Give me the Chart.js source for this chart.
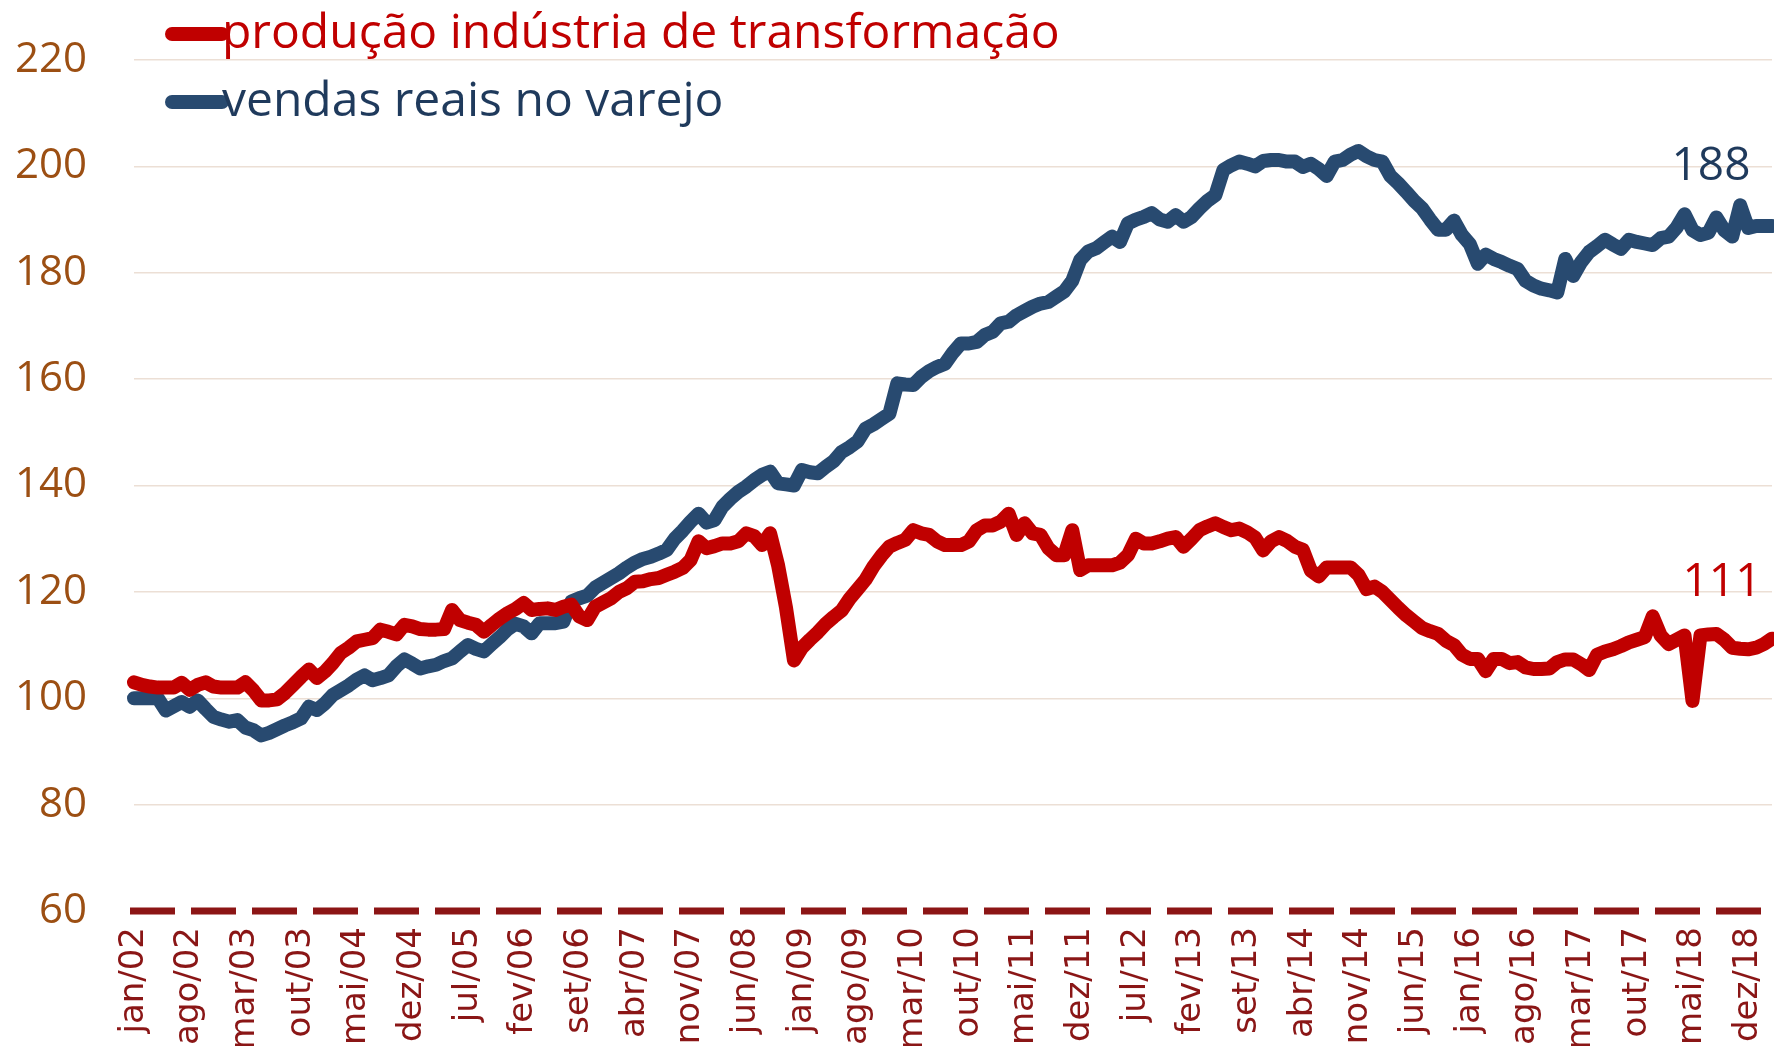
<!DOCTYPE html>
<html>
<head>
<meta charset="utf-8">
<script src="https://cdn.jsdelivr.net/npm/chart.js@4.4.1/dist/chart.umd.min.js"></script>
<style>
  html, body { margin: 0; padding: 0; background: #fff; overflow: hidden; }
  #wrap { width: 1774px; height: 1046px; }
</style>
</head>
<body>
<div id="wrap"><canvas id="chart" width="1774" height="1046"></canvas></div>
<script>
// months jan/02 .. mar/19
const monthNames = ['jan','fev','mar','abr','mai','jun','jul','ago','set','out','nov','dez'];
const firstYear = 2002;
const nPoints = 207;

// only these categories get a tick label
const shownTicks = ['jan/02','ago/02','mar/03','out/03','mai/04','dez/04','jul/05','fev/06','set/06',
  'abr/07','nov/07','jun/08','jan/09','ago/09','mar/10','out/10','mai/11','dez/11','jul/12','fev/13',
  'set/13','abr/14','nov/14','jun/15','jan/16','ago/16','mar/17','out/17','mai/18','dez/18'];

const yTicks = [60, 80, 100, 120, 140, 160, 180, 200, 220];

// produção indústria de transformação (one row per year)
const industria = [
  103, 102.5, 102.2, 102, 102, 102, 102.9, 101.6, 102.5, 103, 102.2, 102,
  102, 102, 103, 101.5, 99.6, 99.6, 99.8, 101, 102.5, 104, 105.4, 103.8,
  105, 106.6, 108.5, 109.5, 110.7, 111, 111.3, 112.9, 112.5, 112, 113.8, 113.5,
  113, 112.9, 112.9, 113, 116.6, 114.7, 114.2, 113.8, 112.5, 113.8, 115, 116,
  116.8, 117.9, 116.6, 116.8, 116.9, 116.6, 117.2, 117.6, 115.4, 114.7, 117.2, 118,
  118.8, 120, 120.7, 121.9, 122, 122.4, 122.6, 123.2, 123.8, 124.5, 126, 129.5,
  128.2, 128.6, 129.1, 129.1, 129.5, 131, 130.5, 128.8, 131, 125, 117, 107.1,
  109.5, 111, 112.4, 114, 115.3, 116.5, 118.7, 120.5, 122.3, 124.8, 126.8, 128.5,
  129.2, 129.8, 131.6, 131, 130.7, 129.5, 128.8, 128.8, 128.8, 129.5, 131.6, 132.5,
  132.5, 133.2, 134.7, 130.7, 132.9, 131, 130.7, 128.2, 126.9, 126.9, 131.6, 124.1,
  125, 125, 125, 125, 125.5, 126.9, 130, 129.1, 129.1, 129.5, 130, 130.3,
  128.5, 130, 131.6, 132.3, 132.9, 132.2, 131.6, 131.9, 131.2, 130.2, 127.8, 129.5,
  130.3, 129.6, 128.5, 127.9, 124, 122.9, 124.6, 124.6, 124.6, 124.6, 123.2, 120.5,
  121, 120, 118.5, 117, 115.6, 114.4, 113.2, 112.6, 112.1, 110.8, 110, 108.2,
  107.4, 107.4, 105.1, 107.4, 107.4, 106.6, 106.8, 105.8, 105.5, 105.5, 105.6, 106.8,
  107.3, 107.3, 106.4, 105.3, 108.2, 108.8, 109.2, 109.8, 110.5, 111, 111.5, 115.4,
  111.8, 110.2, 111, 111.8, 99.5, 111.8, 112, 112.1, 111, 109.5, 109.3, 109.2,
  109.5, 110.2, 111.2
];

// vendas reais no varejo
const varejo = [
  100, 100, 100, 100, 97.7, 98.5, 99.3, 98.4, 99.6, 98, 96.5, 96,
  95.6, 95.9, 94.5, 94, 93, 93.5, 94.2, 94.9, 95.5, 96.2, 98.4, 97.8,
  99, 100.6, 101.5, 102.4, 103.5, 104.3, 103.4, 103.8, 104.3, 106, 107.3, 106.5,
  105.6, 106, 106.3, 107, 107.5, 108.8, 110, 109.3, 108.8, 110.2, 111.5, 113,
  114, 113.5, 112.2, 114.1, 114.1, 114.1, 114.4, 118.2, 118.8, 119.3, 120.8, 121.7,
  122.6, 123.5, 124.6, 125.5, 126.2, 126.6, 127.2, 127.9, 130, 131.5, 133.2, 134.7,
  133, 133.5, 136, 137.5, 138.8, 139.8, 141, 142, 142.6, 140.4, 140.2, 140,
  142.9, 142.5, 142.3, 143.5, 144.6, 146.3, 147.2, 148.3, 150.7, 151.5, 152.5, 153.5,
  159.2, 159, 158.9, 160.4, 161.5, 162.3, 162.9, 165, 166.7, 166.7, 167, 168.3,
  168.9, 170.5, 170.8, 172, 172.8, 173.6, 174.2, 174.5, 175.5, 176.5, 178.5, 182.4,
  184, 184.6, 185.7, 186.8, 185.8, 189.3, 190, 190.5, 191.2, 190, 189.6, 190.8,
  189.6, 190.5, 192.1, 193.5, 194.6, 199.3, 200.2, 200.9, 200.5, 200, 201, 201.2,
  201.2, 200.9, 200.9, 199.9, 200.5, 199.5, 198.2, 200.9, 201.2, 202.2, 202.9, 201.9,
  201.2, 200.9, 198.2, 196.8, 195.2, 193.5, 192.1, 190, 188.1, 188.1, 189.8, 187.1,
  185.4, 181.7, 183.4, 182.6, 182, 181.3, 180.7, 178.5, 177.6, 177, 176.7, 176.3,
  182.6, 179.4, 182, 183.9, 185, 186.2, 185.3, 184.5, 186.2, 185.8, 185.5, 185.2,
  186.5, 186.8, 188.5, 191, 188, 187.1, 187.5, 190.4, 188, 186.8, 192.7, 188.4,
  188.8, 188.8, 188.8
];

const endLabels = ['111', '188'];

const labels = [];
for (let i = 0; i < nPoints; i++) {
  const y = firstYear + Math.floor(i / 12);
  labels.push(monthNames[i % 12] + '/' + String(y).slice(2));
}

const RED = '#c00000';
const BLUE = '#284a70';

// legend drawn over the top of the plot, like the original
const legendPlugin = {
  id: 'topLegend',
  afterDatasetsDraw(chart) {
    const ctx = chart.ctx;
    const rows = [34, 102];
    ctx.save();
    ctx.font = '48px "Open Sans"';
    const k = 506 / ctx.measureText(chart.data.datasets[1].label).width;
    const size = Math.round(48 * k);
    chart.data.datasets.forEach((ds, i) => {
      const y = rows[i];
      ctx.strokeStyle = ds.borderColor;
      ctx.lineWidth = 14;
      ctx.lineCap = 'round';
      ctx.beginPath();
      ctx.moveTo(172, y);
      ctx.lineTo(222, y);
      ctx.stroke();
      ctx.fillStyle = ds.legendText;
      ctx.font = size + 'px "Open Sans"';
      ctx.textBaseline = 'middle';
      ctx.textAlign = 'left';
      ctx.fillText(ds.label, 222, y);
    });
    ctx.restore();
  }
};

const endLabelPlugin = {
  id: 'endLabels',
  afterDatasetsDraw(chart) {
    const ctx = chart.ctx;
    const shift = [[-50, -56], [-61, -59]];
    ctx.save();
    ctx.font = '46px "Open Sans"';
    ctx.textAlign = 'center';
    ctx.textBaseline = 'middle';
    chart.data.datasets.forEach((ds, i) => {
      const pts = chart.getDatasetMeta(i).data;
      const p = pts[pts.length - 1];
      ctx.fillStyle = ds.legendText;
      ctx.fillText(endLabels[i], p.x + shift[i][0], p.y + shift[i][1]);
    });
    ctx.restore();
  }
};

// dashed dark-red base line at the axis minimum
const baseLinePlugin = {
  id: 'baseLine',
  beforeDatasetsDraw(chart) {
    const ctx = chart.ctx;
    const y = chart.scales.y.getPixelForValue(chart.scales.y.min);
    ctx.save();
    ctx.strokeStyle = '#8c1515';
    ctx.lineWidth = 7;
    ctx.setLineDash([45, 16]);
    ctx.beginPath();
    ctx.moveTo(chart.chartArea.left - 4, y);
    ctx.lineTo(chart.width, y);
    ctx.stroke();
    ctx.restore();
  }
};

new Chart(document.getElementById('chart'), {
  type: 'line',
  data: {
    labels: labels,
    datasets: [
      {
        label: 'produção indústria de transformação',
        data: industria,
        borderColor: RED,
        legendText: RED,
        borderWidth: 14,
        pointRadius: 0,
        tension: 0,
        borderJoinStyle: 'round',
        borderCapStyle: 'round'
      },
      {
        label: 'vendas reais no varejo',
        data: varejo,
        borderColor: BLUE,
        legendText: '#1f3a5c',
        borderWidth: 14,
        pointRadius: 0,
        tension: 0,
        borderJoinStyle: 'round',
        borderCapStyle: 'round'
      }
    ]
  },
  plugins: [baseLinePlugin, legendPlugin, endLabelPlugin],
  options: {
    responsive: false,
    animation: false,
    devicePixelRatio: 1,
    layout: { padding: { top: 60, right: 2, left: 0, bottom: 0 } },
    plugins: { legend: { display: false }, tooltip: { enabled: false } },
    scales: {
      x: {
        offset: false,
        grid: { display: false, drawTicks: false },
        border: { display: false },
        ticks: {
          autoSkip: false,
          minRotation: 90,
          maxRotation: 90,
          padding: 16,
          color: '#8a1616',
          font: { family: 'DejaVu Sans', size: 34 },
          callback: function (v) {
            const l = this.getLabelForValue(v);
            return shownTicks.includes(l) ? l : '';
          }
        },
        afterFit(scale) {
          scale.height = 135;
          scale.paddingLeft = 0;
          scale.paddingRight = 0;
        }
      },
      y: {
        min: 60,
        max: 220,
        afterBuildTicks(scale) {
          scale.ticks = yTicks.map(v => ({ value: v }));
        },
        grid: {
          drawTicks: false,
          lineWidth: 1.5,
          color: c => (c.tick && c.tick.value === 60) ? 'rgba(0,0,0,0)' : '#ecdfd5'
        },
        border: { display: false },
        ticks: {
          padding: 47,
          color: '#9c4f13',
          font: { family: 'Open Sans', size: 42 }
        },
        afterFit(scale) {
          scale.width = 134;
          scale.paddingTop = 0;
          scale.paddingBottom = 0;
        }
      }
    }
  }
});
</script>
</body>
</html>
